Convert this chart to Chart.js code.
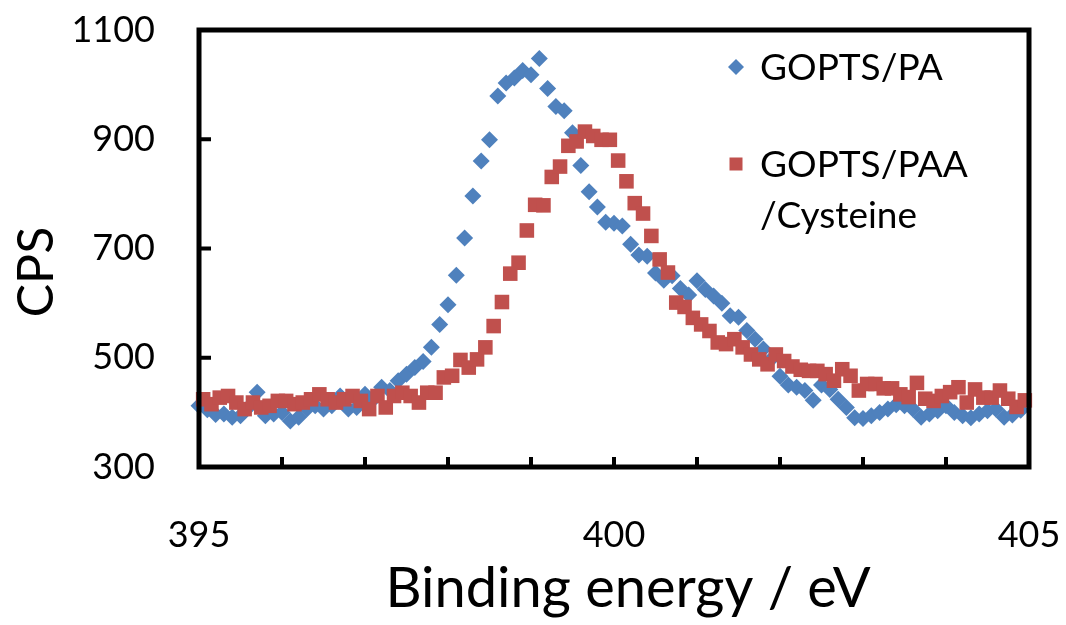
<!DOCTYPE html>
<html>
<head>
<meta charset="utf-8">
<script src="https://cdn.jsdelivr.net/npm/chart.js@4.4.1/dist/chart.umd.min.js"></script>
<style>
  html, body { margin: 0; padding: 0; background: #fff; }
  #wrap { width: 1066px; height: 625px; position: relative; }
</style>
</head>
<body>
<div id="wrap"><canvas id="xps"></canvas></div>
<script>
// binding energy (eV) of each measured point
var paEnergy = [
  395.0, 395.1, 395.2, 395.3, 395.4, 395.5, 395.6, 395.7, 395.8, 395.9,
  396.0, 396.1, 396.2, 396.3, 396.4, 396.5, 396.6, 396.7, 396.8, 396.9,
  397.0, 397.1, 397.2, 397.3, 397.4, 397.5, 397.6, 397.7, 397.8, 397.9,
  398.0, 398.1, 398.2, 398.3, 398.4, 398.5, 398.6, 398.7, 398.8, 398.9,
  399.0, 399.1, 399.2, 399.3, 399.4, 399.5, 399.6, 399.7, 399.8, 399.9,
  400.0, 400.1, 400.2, 400.3, 400.4, 400.5, 400.6, 400.7, 400.8, 400.9,
  401.0, 401.1, 401.2, 401.3, 401.4, 401.5, 401.6, 401.7, 401.8, 401.9,
  402.0, 402.1, 402.2, 402.3, 402.4, 402.5, 402.6, 402.7, 402.8, 402.9,
  403.0, 403.1, 403.2, 403.3, 403.4, 403.5, 403.6, 403.7, 403.8, 403.9,
  404.0, 404.1, 404.2, 404.3, 404.4, 404.5, 404.6, 404.7, 404.8, 404.9
];
var paCps = [
  412, 405, 396, 397, 391, 394, 410, 437, 394, 397,
  400, 384, 391, 406, 412, 406, 412, 430, 406, 409,
  433, 424, 446, 440, 458, 470, 482, 493, 519, 561,
  597, 651, 719, 796, 860, 899, 979, 1003, 1012, 1026,
  1018, 1048, 993, 960, 952, 912, 852, 804, 776, 748,
  746, 741, 708, 688, 686, 655, 642, 650, 627, 615,
  641, 625, 613, 600, 577, 574, 550, 534, 516, 498,
  466, 450, 446, 440, 422, 450, 442, 424, 409, 390,
  389, 394, 400, 406, 414, 412, 406, 391, 397, 403,
  412, 400, 394, 390, 397, 403, 406, 391, 395, 404
];

var cysEnergy = [
  395.05, 395.15, 395.25, 395.35, 395.45, 395.55, 395.65, 395.75, 395.85, 395.95,
  396.05, 396.15, 396.25, 396.35, 396.45, 396.55, 396.65, 396.75, 396.85, 396.95,
  397.05, 397.15, 397.25, 397.35, 397.45, 397.55, 397.65, 397.75, 397.85, 397.95,
  398.05, 398.15, 398.25, 398.35, 398.45, 398.55, 398.65, 398.75, 398.85, 398.95,
  399.05, 399.15, 399.25, 399.35, 399.45, 399.55, 399.65, 399.75, 399.85, 399.95,
  400.05, 400.15, 400.25, 400.35, 400.45, 400.55, 400.65, 400.75, 400.85, 400.95,
  401.05, 401.15, 401.25, 401.35, 401.45, 401.55, 401.65, 401.75, 401.85, 401.95,
  402.05, 402.15, 402.25, 402.35, 402.45, 402.55, 402.65, 402.75, 402.85, 402.95,
  403.05, 403.15, 403.25, 403.35, 403.45, 403.55, 403.65, 403.75, 403.85, 403.95,
  404.05, 404.15, 404.25, 404.35, 404.45, 404.55, 404.65, 404.75, 404.85, 404.95
];
var cysCps = [
  424, 415, 427, 430, 418, 406, 418, 409, 412, 421,
  421, 415, 418, 424, 433, 424, 418, 424, 430, 421,
  406, 430, 409, 430, 436, 430, 418, 436, 436, 464,
  467, 496, 482, 497, 519, 558, 602, 654, 674, 733,
  780, 779, 831, 850, 888, 896, 914, 906, 899, 899,
  861, 823, 783, 764, 723, 680, 656, 601, 593, 573,
  561, 549, 528, 525, 534, 519, 506, 497, 488, 506,
  494, 484, 478, 476, 476, 470, 458, 479, 467, 440,
  452, 452, 444, 444, 433, 428, 454, 425, 421, 430,
  437, 446, 418, 442, 427, 427, 440, 425, 410, 422
];

var xTicks = [395, 396, 397, 398, 399, 400, 401, 402, 403, 404, 405];
var xLabelled = [395, 400, 405];
var yTicks = [300, 500, 700, 900, 1100];

var seriesNames = ['GOPTS/PA', 'GOPTS/PAA', '/Cysteine'];
var BLUE = '#4F81BD', RED = '#C0504D';
var FONT = 'Lato, "Open Sans", sans-serif';

function toPoints(xs, ys) {
    return xs.map(function (v, i) { return { x: v, y: ys[i] }; });
}

// box, inward tick marks, axis titles and legend (Excel look)
var excelFrame = {
    id: 'excelFrame',
    afterDraw: function (chart) {
        var ctx = chart.ctx, a = chart.chartArea;
        var xs = chart.scales.x, ys = chart.scales.y;
        ctx.save();
        ctx.strokeStyle = '#000';
        ctx.lineWidth = 4;
        ctx.beginPath();
        xTicks.slice(1, -1).forEach(function (v) {
            var px = xs.getPixelForValue(v);
            ctx.moveTo(px, a.bottom);
            ctx.lineTo(px, a.bottom - 10);
        });
        yTicks.slice(1, -1).forEach(function (v) {
            var py = ys.getPixelForValue(v);
            ctx.moveTo(a.left, py);
            ctx.lineTo(a.left + 12, py);
        });
        ctx.stroke();
        ctx.lineWidth = 5;
        ctx.strokeRect(a.left, a.top, a.right - a.left, a.bottom - a.top);

        ctx.fillStyle = '#000';
        ctx.textAlign = 'center';
        ctx.textBaseline = 'alphabetic';
        ctx.font = '56px ' + FONT;
        ctx.fillText('Binding energy / eV', 628, 607);
        ctx.font = '50px ' + FONT;
        ctx.save();
        ctx.translate(53, 272);
        ctx.rotate(-Math.PI / 2);
        ctx.fillText('CPS', 0, 0);
        ctx.restore();

        // legend
        ctx.fillStyle = BLUE;
        ctx.beginPath();
        ctx.moveTo(736 - 8, 67); ctx.lineTo(736, 59); ctx.lineTo(736 + 8, 67); ctx.lineTo(736, 75);
        ctx.closePath();
        ctx.fill();
        ctx.fillStyle = RED;
        ctx.fillRect(736 - 6.5, 164 - 6.5, 13, 13);
        ctx.fillStyle = '#000';
        ctx.font = '37px ' + FONT;
        ctx.textAlign = 'left';
        ctx.fillText(seriesNames[0], 760, 80);
        ctx.fillText(seriesNames[1], 760, 177);
        ctx.fillText(seriesNames[2], 760, 228);
        ctx.restore();
    }
};

new Chart(document.getElementById('xps'), {
    type: 'scatter',
    data: {
        datasets: [
            { label: 'GOPTS/PA', data: toPoints(paEnergy, paCps), pointStyle: 'rectRot', pointRadius: 8.5,
              backgroundColor: BLUE, borderWidth: 0, order: 2, clip: false },
            { label: 'GOPTS/PAA/Cysteine', data: toPoints(cysEnergy, cysCps), pointStyle: 'rect', pointRadius: 10.3,
              backgroundColor: RED, borderWidth: 0, order: 1, clip: false }
        ]
    },
    options: {
        responsive: true, maintainAspectRatio: false, animation: false,
        layout: { padding: { top: 30, right: 37, left: 0, bottom: 0 } },
        plugins: { legend: { display: false }, tooltip: { enabled: false } },
        scales: {
            x: {
                type: 'linear', min: 395, max: 405,
                grid: { display: false, drawTicks: false }, border: { display: false },
                afterBuildTicks: function (s) { s.ticks = xTicks.map(function (v) { return { value: v }; }); },
                afterFit: function (s) { s.height = 158; s.paddingLeft = 0; s.paddingRight = 0; },
                ticks: {
                    padding: 47, color: '#000', font: { family: FONT, size: 36 }, maxRotation: 0, autoSkip: false,
                    callback: function (v) { return xLabelled.indexOf(v) >= 0 ? String(v) : ''; }
                }
            },
            y: {
                min: 300, max: 1100,
                grid: { display: false, drawTicks: false }, border: { display: false },
                afterBuildTicks: function (s) { s.ticks = yTicks.map(function (v) { return { value: v }; }); },
                afterFit: function (s) { s.width = 199; s.paddingTop = 0; s.paddingBottom = 0; },
                ticks: {
                    padding: 44, color: '#000', font: { family: FONT, size: 36 },
                    callback: function (v) { return String(v); }
                }
            }
        }
    },
    plugins: [excelFrame]
});
</script>
</body>
</html>
